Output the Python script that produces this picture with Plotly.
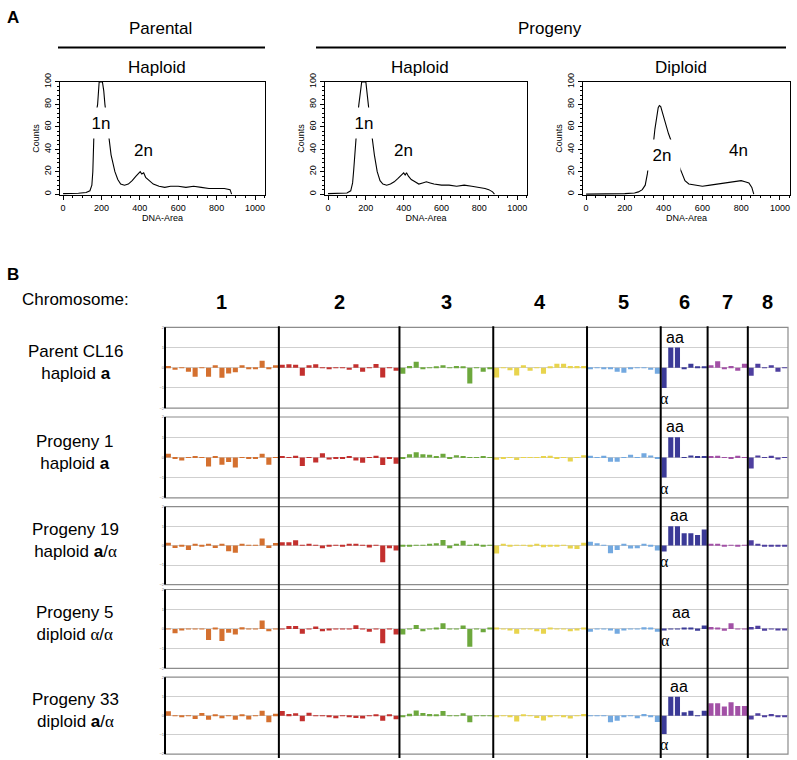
import plotly.graph_objects as go

W, H = 797, 760


def px(x):
    return x / W


def py(y):
    return 1 - y / H


# ---------------- Panel A : DNA content histograms ----------------
parental_channel = [0, 40, 80, 120, 140, 150, 155, 161, 170, 180, 188, 205, 212, 218, 226,
                    234, 250, 270, 285, 300, 320, 340, 360, 380, 395, 402, 410, 420, 430, 450,
                    470, 500, 530, 560, 600, 640, 680, 720, 760, 800, 840, 870, 878]
parental_counts = [0.5, 0.5, 0.8, 1.5, 3, 8, 20, 55, 70, 80, 100, 100, 92, 80, 68,
                   55, 35, 20, 13, 9, 8, 9, 12, 16, 19, 20, 18, 19, 15, 12,
                   9, 7, 6, 7, 7, 6, 7, 6, 5, 5, 5, 4, 0]

haploid_channel = [0, 50, 100, 120, 130, 136, 142, 151, 158, 163, 172, 178, 200, 206, 213,
                   220, 229, 245, 260, 275, 290, 310, 330, 350, 370, 390, 400, 408, 415, 425,
                   440, 460, 480, 500, 520, 540, 560, 600, 640, 680, 720, 760, 800, 830, 850,
                   870, 880]
haploid_counts = [0.5, 0.5, 1, 3, 10, 22, 38, 55, 72, 80, 95, 100, 100, 92, 80,
                  68, 55, 35, 20, 12, 9, 8, 9, 11, 14, 17, 19, 17, 19, 16,
                  13, 11, 9, 10, 11, 10, 9, 8, 8, 7, 8, 7, 6, 5, 4,
                  2, 0]

diploid_channel = [0, 50, 100, 150, 200, 250, 270, 290, 305, 316, 325, 335, 347, 355, 365,
                   372, 378, 385, 395, 410, 425, 446, 465, 480, 497, 510, 530, 560, 600, 640,
                   680, 720, 750, 780, 800, 820, 840, 855, 865]
diploid_counts = [0, 0, 0, 0.5, 0.5, 1, 2, 4, 8, 18, 30, 38, 45, 58, 70,
                  77, 79, 78, 72, 63, 54, 44, 35, 25, 18, 12, 9, 8, 7, 8,
                  9, 10, 11, 12, 12, 11, 10, 6, 0]

hist_titles = ["Haploid", "Haploid", "Diploid"]
x_ticks = [0, 200, 400, 600, 800, 1000]
y_ticks = [0, 20, 40, 60, 80, 100]

# ---------------- Panel B : copy-number bars ----------------
chromosomes = ["1", "2", "3", "4", "5", "6", "7", "8"]
chrom_bins = [17, 18, 14, 14, 11, 7, 6, 6]
chrom_colors = ["#D4702F", "#C3302E", "#6DA83D", "#E8D44D",
                "#73A9E0", "#3B3A97", "#A250A6", "#4E3F9F"]
ALPHA = "<span style=\"font-family:Liberation Serif\">α</span>"
row_names = ["Parent CL16<br>haploid <b>a</b>",
             "Progeny 1<br>haploid <b>a</b>",
             "Progeny 19<br>haploid <b>a</b>/" + ALPHA,
             "Progeny 5<br>diploid " + ALPHA + "/" + ALPHA,
             "Progeny 33<br>diploid <b>a</b>/" + ALPHA]
y_tick_vals = [-2, -1, 0, 1, 2]

parent_cl16 = [
    [0.08, -0.1, 0.02, -0.2, -0.45, -0.02, -0.45, 0.12, -0.5, -0.28, -0.22, 0.12, -0.03, -0.05, 0.35, -0.03, 0.12],
    [0.15, 0.17, 0.15, -0.4, 0.12, 0.17, 0.02, -0.08, 0.02, 0.02, -0.1, 0.17, -0.2, 0.02, 0.18, -0.48, 0.02, -0.15],
    [-0.3, 0.08, 0.3, -0.04, 0.02, 0.03, 0.12, -0.02, 0.08, 0.05, -0.78, 0.02, -0.2, -0.05],
    [-0.48, 0.02, -0.12, -0.38, 0.12, -0.15, 0.02, -0.3, 0.05, 0.2, 0.2, 0.08, 0.08, 0.08],
    [-0.05, -0.02, -0.06, -0.03, -0.2, -0.25, -0.08, 0.02, 0.02, -0.1, -0.3],
    [-1.0, 1.0, 1.0, -0.03, 0.2, 0.05, 0.05],
    [0.12, 0.32, -0.05, 0.08, -0.15, 0.2],
    [-0.4, 0.2, -0.02, 0.12, -0.2, 0.02],
]
progeny_1 = [
    [0.18, -0.05, -0.15, 0.02, 0.06, 0.02, -0.45, 0.06, -0.36, -0.23, -0.5, 0.02, -0.05, -0.04, 0.18, -0.36, 0.02],
    [0.06, 0.02, 0.08, -0.43, 0.02, -0.25, 0.21, -0.1, -0.08, -0.07, 0.03, -0.15, -0.27, 0.02, 0.08, -0.38, -0.03, -0.31],
    [-0.03, 0.16, 0.25, 0.16, 0.13, 0.06, 0.18, -0.08, 0.11, 0.05, 0.02, 0.02, 0.03, 0.02],
    [-0.11, -0.06, 0.02, -0.13, 0.02, -0.02, 0.02, 0.03, 0.08, -0.05, 0.02, -0.2, 0.02, 0.11],
    [0.08, -0.02, 0.08, -0.21, -0.21, 0.02, 0.13, 0.02, 0.21, 0.1, -0.05],
    [-1.0, 1.0, 1.0, -0.02, 0.1, 0.05, 0.05],
    [0.05, 0.08, 0.02, -0.05, 0.08, 0.02],
    [-0.55, 0.1, 0.02, 0.08, -0.1, 0.02],
]
progeny_19 = [
    [0.15, -0.12, -0.05, -0.22, 0.07, -0.03, 0.05, -0.12, 0.05, -0.29, -0.37, 0.05, 0.03, 0.02, 0.37, -0.12, 0.14],
    [0.17, 0.17, 0.27, 0.02, 0.05, 0.02, -0.14, -0.02, 0.03, -0.02, 0.07, 0.07, 0.03, -0.1, 0.02, -0.86, -0.14, -0.25],
    [-0.02, -0.02, 0.02, 0.02, 0.05, 0.12, 0.29, -0.14, 0.07, 0.25, 0.02, 0.1, -0.02, 0.02],
    [-0.4, 0.07, -0.03, 0.02, 0.02, -0.02, 0.07, -0.08, -0.02, -0.03, 0.02, -0.15, -0.17, 0.15],
    [0.2, 0.12, 0.02, -0.39, -0.22, 0.07, -0.15, -0.14, 0.07, -0.03, -0.25],
    [-0.3, 1.0, 1.0, 0.63, 0.63, 0.55, 0.83],
    [0.05, 0.05, -0.03, 0.02, -0.05, 0.02],
    [0.28, 0.08, -0.05, -0.05, -0.05, -0.05],
]
progeny_5 = [
    [0.02, -0.22, -0.03, 0.02, -0.02, 0.02, -0.56, 0.07, -0.61, -0.2, -0.29, 0.08, 0.02, 0.02, 0.42, -0.12, 0.02],
    [0.02, 0.15, 0.15, -0.25, 0.02, 0.12, -0.12, -0.03, 0.02, 0.02, 0.02, 0.19, 0.02, -0.14, 0.02, -0.73, 0.02, -0.29],
    [-0.29, 0.02, 0.2, -0.12, 0.02, 0.07, 0.29, 0.02, 0.02, 0.17, -0.9, 0.02, -0.17, 0.03],
    [0.03, 0.02, -0.07, -0.25, 0.02, 0.02, -0.12, -0.25, 0.03, 0.02, 0.02, -0.12, -0.07, 0.03],
    [-0.14, 0.02, 0.02, -0.07, -0.25, -0.08, 0.02, 0.02, 0.08, 0.03, -0.14],
    [-0.05, 0.02, 0.02, 0.05, 0.05, -0.1, 0.17],
    [0.1, 0.05, -0.1, 0.28, 0.02, 0.02],
    [0.1, 0.16, -0.1, 0.02, -0.03, -0.03],
]
progeny_33 = [
    [0.23, 0.02, -0.07, 0.02, -0.17, 0.14, -0.22, 0.07, -0.14, 0.02, -0.22, 0.07, -0.2, 0.02, 0.25, -0.34, 0.1],
    [0.24, 0.08, 0.12, -0.29, 0.15, 0.02, 0.02, -0.08, -0.14, -0.02, -0.03, -0.12, -0.15, 0.02, 0.03, -0.27, 0.05, -0.19],
    [-0.08, 0.1, 0.27, 0.14, 0.08, 0.07, 0.24, 0.02, 0.02, 0.12, -0.34, 0.02, -0.02, 0.02],
    [-0.08, 0.02, -0.03, -0.3, 0.03, 0.02, -0.12, -0.25, -0.03, -0.02, -0.03, -0.15, 0.02, 0.08],
    [-0.02, 0.02, 0.02, -0.34, -0.27, -0.08, 0.02, -0.14, 0.08, -0.03, -0.33],
    [-0.95, 0.98, 0.98, 0.17, 0.25, 0.02, 0.25],
    [0.64, 0.64, 0.47, 0.7, 0.5, 0.5],
    [-0.2, 0.12, -0.03, 0.08, -0.05, -0.07],
]
rows_data = [parent_cl16, progeny_1, progeny_19, progeny_5, progeny_33]

# "aa" / alpha marker label anchor values (chr6 bar tips) per row
aa_label_pos = [(75.6, 1.0), (75.6, 1.0), (76.3, 1.0), (76.5, 0.3), (76.3, 0.98)]
alpha_label_pos = [(74.0, -1.0), (74.0, -1.0), (74.0, -0.3), (74.2, -0.05), (74.0, -0.95)]

# ---------------- layout geometry (pixels) ----------------
hist_x_px = [(60, 265), (325, 527), (583, 790)]
hist_y_px = (74, 189)
row_top_px = [323, 414, 505, 589, 678]
row_bot_px = [405, 496, 584, 669, 756]
bars_x_px = (165, 788)

FONT = "Liberation Sans, Arial, sans-serif"

fig = go.Figure()
layout = dict(
    width=W, height=H,
    margin=dict(l=0, r=0, t=0, b=0, pad=0),
    paper_bgcolor="white", plot_bgcolor="white",
    showlegend=False,
    font=dict(family=FONT, color="black"),
)
annotations = []
shapes = []


def note(text, x, y, size=17, **kw):
    d = dict(text=text, x=x, y=y, xref="paper", yref="paper", showarrow=False,
             xanchor="center", yanchor="middle", font=dict(size=size))
    d.update(kw)
    annotations.append(d)


# ----- histograms -----
hist_series = [(parental_channel, parental_counts),
               (haploid_channel, haploid_counts),
               (diploid_channel, diploid_counts)]
for i, (chan, cnt) in enumerate(hist_series):
    n = i + 1
    fig.add_trace(go.Scatter(x=chan, y=cnt, mode="lines",
                             line=dict(color="black", width=1.1),
                             xaxis=f"x{n}", yaxis=f"y{n}", hoverinfo="skip"))
    x0, x1 = hist_x_px[i]
    layout[f"xaxis{n}"] = dict(
        domain=[px(x0), px(x1)], range=[-16, 1052], anchor=f"y{n}",
        tickvals=x_ticks, ticks="outside", ticklen=4, tickwidth=1, tickcolor="black",
        minor=dict(dtick=50, ticks="outside", ticklen=2, tickcolor="black"),
        showline=True, mirror=True, linecolor="black", linewidth=1,
        showgrid=False, zeroline=False, tickfont=dict(size=9),
        title=dict(text="DNA-Area", font=dict(size=9), standoff=1),
    )
    layout[f"yaxis{n}"] = dict(
        domain=[py(hist_y_px[1]), py(hist_y_px[0])], range=[-1, 100], anchor=f"x{n}",
        tickvals=y_ticks, tickangle=-90, ticks="outside", ticklen=4, tickcolor="black",
        minor=dict(dtick=4, ticks="outside", ticklen=2, tickcolor="black"),
        showline=True, mirror=True, linecolor="black", linewidth=1,
        showgrid=False, zeroline=False, tickfont=dict(size=9),
        title=dict(text="Counts", font=dict(size=9), standoff=2),
    )
    note(hist_titles[i], px((x0 + x1) / 2 - 6), py(59))

# peak labels (white boxes hide the trace behind them, as in the original)
peak_labels = [
    (1, "1n", 200, 63, 26), (1, "2n", 417, 39, 0),
    (2, "1n", 188, 63, 26), (2, "2n", 401, 39, 0),
    (3, "2n", 392, 35, 36), (3, "4n", 787, 39, 0),
]
for n, txt, xv, yv, boxw in peak_labels:
    d = dict(text=txt, x=xv, y=yv, xref=f"x{n}", yref=f"y{n}", showarrow=False,
             xanchor="center", yanchor="middle", font=dict(size=17))
    if boxw:
        d.update(bgcolor="white", width=boxw, height=30, borderpad=0)
    annotations.append(d)

# group headers
note("Parental", px(160), py(20))
note("Progeny", px(550), py(20))
shapes.append(dict(type="line", xref="paper", yref="paper", x0=px(58), x1=px(265),
                   y0=py(39), y1=py(39), line=dict(color="black", width=2)))
shapes.append(dict(type="line", xref="paper", yref="paper", x0=px(316), x1=px(786),
                   y0=py(39), y1=py(39), line=dict(color="black", width=2)))

note("<b>A</b>", px(13), py(9))
note("<b>B</b>", px(13), py(269))
note("Chromosome:", px(75), py(295))

# ----- copy-number rows -----
offsets = []
acc = 0
for nb in chrom_bins:
    offsets.append(acc)
    acc += nb
total_bins = acc

for r, row in enumerate(rows_data):
    n = 4 + r
    for c, vals in enumerate(row):
        xs = [offsets[c] + k for k in range(len(vals))]
        fig.add_trace(go.Bar(x=xs, y=vals, width=0.76, marker_color=chrom_colors[c],
                             marker_line_width=0, xaxis=f"x{n}", yaxis=f"y{n}",
                             hoverinfo="skip"))
    layout[f"xaxis{n}"] = dict(
        domain=[px(bars_x_px[0]), px(bars_x_px[1])], range=[-0.5, total_bins - 0.5],
        anchor=f"y{n}", showticklabels=False, showgrid=False, zeroline=False,
        showline=False, ticks="",
    )
    layout[f"yaxis{n}"] = dict(
        domain=[py(row_bot_px[r]), py(row_top_px[r])], range=[-2, 2], anchor=f"x{n}",
        tickvals=y_tick_vals, ticks="", showgrid=True, gridcolor="#CFCFCF", gridwidth=1,
        zeroline=True, zerolinecolor="#CFCFCF", zerolinewidth=1, showline=False,
        tickfont=dict(size=4, color="#777777"),
    )
    # row frame (grey) and left axis (black)
    shapes.append(dict(type="rect", xref=f"x{n} domain", yref=f"y{n} domain",
                       x0=0, x1=1, y0=0, y1=1, line=dict(color="#8C8C8C", width=1.2),
                       layer="above"))
    shapes.append(dict(type="line", xref=f"x{n} domain", yref=f"y{n} domain",
                       x0=0, x1=0, y0=0, y1=1, line=dict(color="black", width=2),
                       layer="above"))
    note(row_names[r], px(75), py((row_top_px[r] + row_bot_px[r]) / 2 - 5), align="center")
    ax, ay = aa_label_pos[r]
    annotations.append(dict(text="aa", x=ax, y=ay, xref=f"x{n}", yref=f"y{n}",
                            xanchor="center", yanchor="bottom", showarrow=False,
                            font=dict(size=16)))
    bx, by = alpha_label_pos[r]
    annotations.append(dict(text="α", x=bx, y=by, xref=f"x{n}", yref=f"y{n}",
                            xanchor="center", yanchor="top", showarrow=False,
                            font=dict(size=16, family="Liberation Serif, Times New Roman, serif")))

# chromosome dividers and labels
for c, name in enumerate(chromosomes):
    center = offsets[c] + (chrom_bins[c] - 1) / 2
    annotations.append(dict(text=f"<b>{name}</b>", x=center, y=py(297), xref="x4",
                            yref="paper", xanchor="center", yanchor="middle",
                            showarrow=False, font=dict(size=20)))
    if c > 0:
        xb = offsets[c] - 0.5
        shapes.append(dict(type="line", xref="x4", yref="paper", x0=xb, x1=xb,
                           y0=py(760), y1=py(322), line=dict(color="black", width=2),
                           layer="above"))

layout["annotations"] = annotations
layout["shapes"] = shapes
fig.update_layout(**layout)
fig.write_html("out.html", config={"displayModeBar": False},
               post_script="document.body.style.margin='0px';")
